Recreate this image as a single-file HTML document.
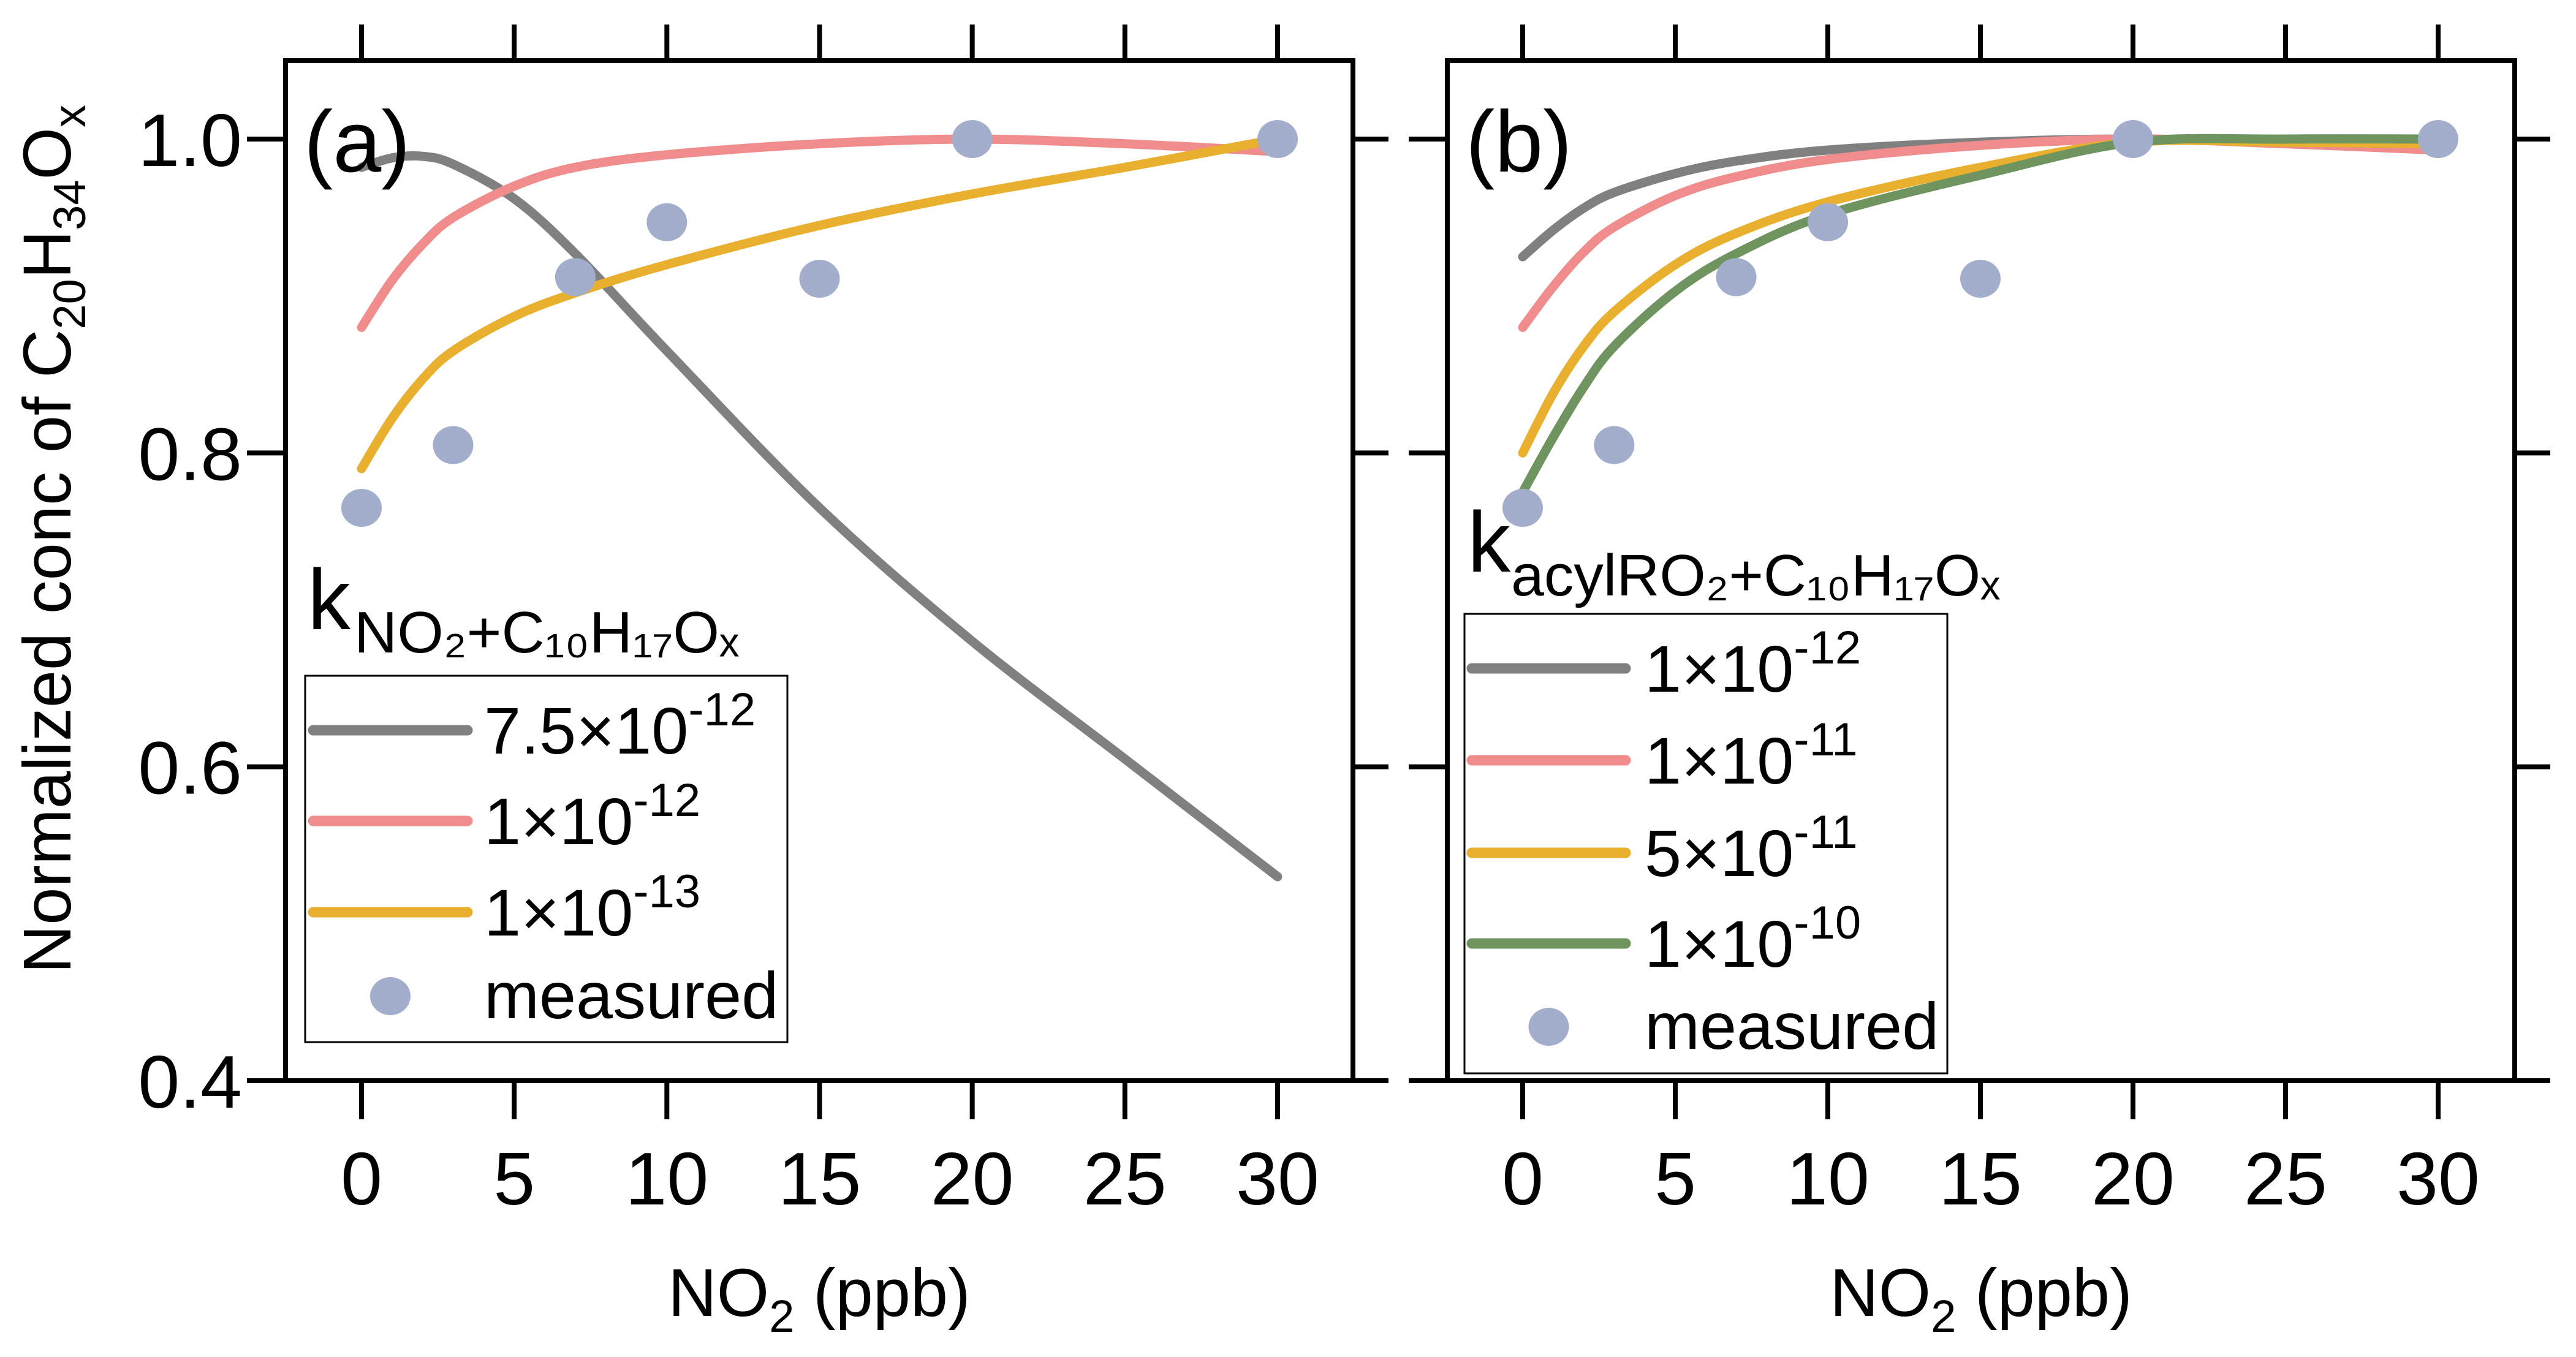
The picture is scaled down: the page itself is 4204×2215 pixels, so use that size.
<!DOCTYPE html>
<html><head><meta charset="utf-8"><style>
html,body{margin:0;padding:0;background:#fff}
svg{display:block}
text{font-family:"Liberation Sans",Arial,sans-serif;fill:#000}
</style></head><body>
<svg id="chart" width="4204" height="2215" viewBox="0 0 4204 2215" xmlns="http://www.w3.org/2000/svg">
<g id="pa"></g>
<g id="pb"></g>
</svg>
<script>
const xVals = [0,1,2,3,5,7,10,15,20,25,30];
const aGray   = [0.982,0.988,0.989,0.984,0.962,0.927,0.865,0.765,0.680,0.605,0.530];
const aPink   = [0.880,0.910,0.933,0.950,0.970,0.982,0.990,0.997,1.000,0.997,0.992];
const aYellow = [0.790,0.822,0.847,0.865,0.887,0.902,0.920,0.945,0.965,0.982,1.000];
const bGray   = [0.925,0.942,0.956,0.966,0.978,0.986,0.993,0.998,1.000,0.998,0.995];
const bPink   = [0.880,0.906,0.928,0.944,0.964,0.976,0.987,0.996,1.000,0.997,0.993];
const bYellow = [0.800,0.838,0.868,0.890,0.920,0.940,0.960,0.982,0.998,0.998,0.997];
const bGreen  = [0.775,0.810,0.842,0.868,0.903,0.927,0.952,0.977,0.998,1.000,1.000];
const measX = [0,3,7,10,15,20,30];
const measY = [0.765,0.805,0.912,0.947,0.911,1.0,1.0];
const xTicks = [0,5,10,15,20,25,30];
const yTicks = [0.4,0.6,0.8,1.0];
const yTickLabels = ["0.4","0.6","0.8","1.0"];

const NS="http://www.w3.org/2000/svg";
function mk(parent,tag,attrs,txt){const e=document.createElementNS(NS,tag);for(const k in attrs)e.setAttribute(k,attrs[k]);if(txt!==undefined)e.textContent=txt;parent.appendChild(e);return e;}
const yScale = v => 1764 - (v-0.4)/0.6*1537;
const COL={gray:"#808080",pink:"#f08c8c",yellow:"#e8b02e",green:"#6f9460",dot:"#a3aecd"};

function smoothPath(pts){
  let d=`M${pts[0][0]},${pts[0][1]}`;
  for(let i=0;i<pts.length-1;i++){
    const p0=pts[i-1]||pts[i],p1=pts[i],p2=pts[i+1],p3=pts[i+2]||p2;
    const c1=[p1[0]+(p2[0]-p0[0])/6,p1[1]+(p2[1]-p0[1])/6];
    const c2=[p2[0]-(p3[0]-p1[0])/6,p2[1]-(p3[1]-p1[1])/6];
    d+=` C${c1[0]},${c1[1]} ${c2[0]},${c2[1]} ${p2[0]},${p2[1]}`;
  }
  return d;
}

function panel(g,cfg){
  const xS=v=>cfg.x0+(v/30)*(cfg.x30-cfg.x0);
  const fr=mk(g,'rect',{x:cfg.L,y:99,width:cfg.R-cfg.L,height:1665,fill:'none',stroke:'#000','stroke-width':8});
  
  
  xTicks.forEach(t=>{
    const x=xS(t);
    const tt=mk(g,'line',{x1:x,y1:40,x2:x,y2:99,stroke:'#000','stroke-width':8});
    
    
    const bt=mk(g,'line',{x1:x,y1:1764,x2:x,y2:1827,stroke:'#000','stroke-width':8});
    
    
    const lb=mk(g,'text',{x:x,y:1966,'font-size':122,'text-anchor':'middle'},String(t));
    
    
  });
  yTicks.forEach((t,i)=>{
    const y=yScale(t);
    const lt=mk(g,'line',{x1:cfg.L-63,y1:y,x2:cfg.L,y2:y,stroke:'#000','stroke-width':8});
    
    
    const rt=mk(g,'line',{x1:cfg.R,y1:y,x2:cfg.R+58,y2:y,stroke:'#000','stroke-width':8});
    
    
    if(cfg.yLabels){
      const lb=mk(g,'text',{x:395,y:y+44,'font-size':122,'text-anchor':'end'},yTickLabels[i]);
      
      
    }
  });
  cfg.series.forEach(s=>{
    const pts=xVals.map((xv,i)=>[xS(xv),yScale(s.vals[i])]);
    const p=mk(g,'path',{d:smoothPath(pts),fill:'none',stroke:s.col,'stroke-width':15,'stroke-linecap':'round'});
    
    
  });
  measX.forEach((xv,i)=>{
    const c=mk(g,'ellipse',{cx:xS(xv),cy:yScale(measY[i]),rx:33,ry:31,fill:COL.dot});
    
    
  });
  const pl=mk(g,'text',{x:cfg.L+30,y:280,'font-size':142},cfg.label);
  
  
  const xt=mk(g,'text',{x:(cfg.L+cfg.R)/2,y:2148,'font-size':110,'text-anchor':'middle'});
  
  
  mk(xt,'tspan',{},'NO');
  mk(xt,'tspan',{'font-size':74,dy:26},'2');
  mk(xt,'tspan',{dy:-26},' (ppb)');
  const lg=cfg.legend;
  const lgG=mk(g,'g',{});
  
  
  mk(lgG,'text',{x:lg.kx,y:lg.kBase,'font-size':140},'k');
  mk(lgG,'text',{x:lg.sx,y:lg.sBase,'font-size':96,textLength:lg.sLen,lengthAdjust:'spacingAndGlyphs'},lg.sub);
  mk(lgG,'rect',{x:lg.bx,y:lg.by,width:lg.bw,height:lg.bh,fill:'none',stroke:'#000','stroke-width':3});
  lg.entries.forEach((e,i)=>{
    const y=lg.ys[i];
    const eg=mk(lgG,'g',{});
    
    
    if(e.col){
      mk(eg,'line',{x1:lg.lx1,y1:y,x2:lg.lx2,y2:y,stroke:e.col,'stroke-width':17,'stroke-linecap':'round'});
      const t=mk(eg,'text',{x:lg.tx,y:y+38,'font-size':108});
      mk(t,'tspan',{},e.m+'×10');
      mk(t,'tspan',{'font-size':76,dy:-46},e.e);
    } else {
      mk(eg,'ellipse',{cx:(lg.lx1+lg.lx2)/2,cy:y,rx:33,ry:31,fill:COL.dot});
      mk(eg,'text',{x:lg.tx,y:y+36,'font-size':108},'measured');
    }
  });
}

panel(document.getElementById('pa'),{
  L:466,R:2208,x0:590,x30:2085,label:'(a)',yLabels:true,
  series:[{vals:aGray,col:COL.gray,name:'line-7.5e-12'},{vals:aPink,col:COL.pink,name:'line-1e-12'},{vals:aYellow,col:COL.yellow,name:'line-1e-13'}],
  legend:{kx:502,kBase:1027,sx:578,sBase:1065,sLen:628,sub:'NO₂+C₁₀H₁₇Oₓ',
    bx:498,by:1103,bw:787,bh:598,lx1:511,lx2:763,tx:790,
    ys:[1192,1340,1489,1626],
    entries:[{col:COL.gray,m:'7.5',e:'-12'},{col:COL.pink,m:'1',e:'-12'},{col:COL.yellow,m:'1',e:'-13'},{}]}
});
panel(document.getElementById('pb'),{
  L:2362,R:4104,x0:2485,x30:3979,label:'(b)',yLabels:false,
  series:[{vals:bGray,col:COL.gray,name:'line-1e-12'},{vals:bPink,col:COL.pink,name:'line-1e-11'},{vals:bYellow,col:COL.yellow,name:'line-5e-11'},{vals:bGreen,col:COL.green,name:'line-1e-10'}],
  legend:{kx:2395,kBase:933,sx:2466,sBase:972,sLen:798,sub:'acylRO₂+C₁₀H₁₇Oₓ',
    bx:2390,by:1002,bw:788,bh:750,lx1:2402,lx2:2653,tx:2684,
    ys:[1091,1241,1392,1540,1676],
    entries:[{col:COL.gray,m:'1',e:'-12'},{col:COL.pink,m:'1',e:'-11'},{col:COL.yellow,m:'5',e:'-11'},{col:COL.green,m:'1',e:'-10'},{}]}
});
const svg=document.getElementById('chart');
const yt=mk(svg,'text',{x:0,y:0,'font-size':110,'text-anchor':'middle',transform:'translate(115,880) rotate(-90)'});


mk(yt,'tspan',{},'Normalized conc of C');
mk(yt,'tspan',{'font-size':74,dy:24},'20');
mk(yt,'tspan',{dy:-24},'H');
mk(yt,'tspan',{'font-size':74,dy:24},'34');
mk(yt,'tspan',{dy:-24},'O');
mk(yt,'tspan',{'font-size':74,dy:24},'x');
</script>
</body></html>
